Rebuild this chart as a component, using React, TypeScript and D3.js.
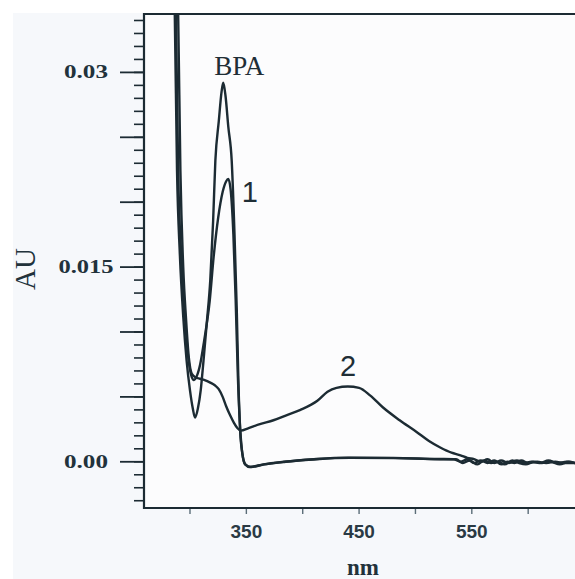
import React, { useEffect, useRef } from 'react';
import * as d3 from 'd3';

// absorbance spectra (nm, AU)
const bpaSpectrum: [number, number][] = [
  [284.5, 0.040], [286.5, 0.0345], [288.5, 0.0224], [291, 0.016], [294, 0.0112],
  [297, 0.0078], [300, 0.0055], [302.5, 0.0041], [304.5, 0.0034], [307, 0.0041],
  [309.5, 0.0055], [312, 0.0078], [315, 0.0108], [318, 0.0140], [320.5, 0.0185],
  [322.5, 0.0232], [325.5, 0.0262], [328, 0.0285], [329.5, 0.0292], [331.5, 0.0282],
  [334, 0.0258], [337, 0.0232], [339.5, 0.0175], [341.5, 0.0117], [343, 0.0060],
  [344.5, 0.0024], [346.5, 0.0006], [349, -0.0002], [353, -0.0004], [365, -0.0002],
  [383, 0.0000], [410, 0.0002], [440, 0.00032], [480, 0.0003], [520, 0.00022],
  [534, 0.0002], [540, 0.0000], [546, 0.0002], [552, -0.0001], [558, 0.0001],
  [564, -0.0001], [570, 0.0001], [576, -0.0002], [582, 0.0000], [588, -0.0001],
  [594, 0.0001], [600, -0.0001], [608, 0.0000], [616, -0.0001], [624, 0.0000],
  [632, -0.0001], [642, -0.0001],
];

const sample1Spectrum: [number, number][] = [
  [285.5, 0.040], [287.5, 0.0345], [289.5, 0.0224], [292.5, 0.0155], [295.5, 0.0112],
  [298.5, 0.0080], [301, 0.0067], [303.5, 0.0063], [306, 0.0066], [309, 0.0075],
  [312.5, 0.0093], [317.5, 0.0124], [321, 0.0158], [325, 0.0188], [329, 0.0208],
  [332, 0.0216], [334, 0.0218], [336, 0.0210], [338.5, 0.0175], [340.5, 0.0125],
  [342.5, 0.0065], [344.5, 0.0026], [346.5, 0.0006], [349, -0.0002], [354, -0.0004],
  [366, -0.0002], [385, 0.0000], [412, 0.0002], [442, 0.0003], [482, 0.00028],
  [522, 0.0002], [536, 0.0002], [542, -0.0001], [548, 0.0001], [555, -0.0002],
  [561, 0.0001], [567, -0.0001], [573, 0.0000], [579, -0.0002], [586, 0.0001],
  [592, -0.0001], [598, -0.0002], [605, 0.0000], [612, -0.0001], [620, 0.0000],
  [628, -0.0002], [636, 0.0000], [642, -0.0001],
];

const sample2Spectrum: [number, number][] = [
  [287, 0.040], [289.5, 0.0345], [291.5, 0.0224], [294, 0.0150], [296.5, 0.0110],
  [299, 0.0080], [301.5, 0.0068], [305, 0.0065], [309, 0.0064], [313, 0.0063],
  [318, 0.0061], [322, 0.0059], [325.5, 0.0056], [329, 0.0050], [332, 0.0043],
  [335.5, 0.0036], [339, 0.0030], [342, 0.0026], [345, 0.0024], [352, 0.0026],
  [362, 0.0029], [374, 0.0032], [386, 0.0036], [398, 0.0040], [413, 0.0047],
  [422, 0.0054], [430, 0.0057], [440, 0.0058], [450, 0.0057], [460, 0.0051],
  [471, 0.0042], [486, 0.0032], [501, 0.0023], [512, 0.0016], [522, 0.0011],
  [532, 0.0007], [540, 0.0005], [546, 0.0003], [552, 0.0002], [558, 0.0000],
  [564, 0.0002], [570, -0.0001], [576, 0.0001], [583, -0.0001], [590, 0.0001],
  [596, -0.0001], [603, 0.0000], [610, -0.0001], [618, 0.0001], [626, -0.0001],
  [634, 0.0000], [642, -0.0001],
];

const curveLabels = [
  { text: 'BPA', nm: 321.5, au: 0.0298, font: 'Liberation Serif', size: 27 },
  { text: '1', nm: 346, au: 0.0200, font: 'Liberation Sans', size: 29 },
  { text: '2', nm: 433, au: 0.0066, font: 'Liberation Sans', size: 29 },
];

const xTickValues = [300, 350, 400, 450, 500, 550, 600];
const xTickLabels = [350, 450, 550];
const yMajorTicks = [0, 0.005, 0.01, 0.015, 0.02, 0.025, 0.03];
const yTickLabels = ['0.00', '0.015', '0.03'];
const yLabelValues = [0, 0.015, 0.03];

const W = 575;
const H = 579;

const App = () => {
  const svgRef = useRef<SVGSVGElement>(null);

  useEffect(() => {
    if (!svgRef.current) return;
    const svg = d3.select(svgRef.current);
    svg.selectAll('*').remove();

    const left = 144;
    const top = 14;
    const bottom = 508;
    const right = 586;

    const x = d3.scaleLinear().domain([259.2, 651.3]).range([left, right]);
    const y = d3.scaleLinear().domain([-0.00356, 0.0345]).range([bottom, top]);

    const ink = '#1c2b33';

    // scanned page tint
    svg.append('rect').attr('width', W).attr('height', H).attr('fill', '#ffffff');
    svg.append('rect')
      .attr('x', 13).attr('y', 13)
      .attr('width', W).attr('height', H)
      .attr('fill', '#f6f8fb');
    svg.append('rect')
      .attr('x', left).attr('y', top)
      .attr('width', right - left).attr('height', bottom - top)
      .attr('fill', '#fcfcfd');

    svg.append('clipPath').attr('id', 'plot-clip')
      .append('rect')
      .attr('x', left).attr('y', top)
      .attr('width', right - left).attr('height', bottom - top);

    // y ticks: minor every 0.001, major every 0.005
    const yMinor = d3.range(-0.003, 0.0345, 0.001);
    svg.append('g').selectAll('line')
      .data(yMinor)
      .enter().append('line')
      .attr('x1', left - 10).attr('x2', left)
      .attr('y1', d => y(d)).attr('y2', d => y(d))
      .attr('stroke', ink).attr('stroke-width', 1.6);
    svg.append('g').selectAll('line')
      .data(yMajorTicks)
      .enter().append('line')
      .attr('x1', left - 24).attr('x2', left)
      .attr('y1', d => y(d)).attr('y2', d => y(d))
      .attr('stroke', ink).attr('stroke-width', 1.8);

    svg.append('g').selectAll('text')
      .data(yLabelValues)
      .enter().append('text')
      .attr('x', 86)
      .attr('y', d => y(d) + 6)
      .attr('text-anchor', 'middle')
      .attr('textLength', (d, i) => yTickLabels[i].length * 11)
      .attr('lengthAdjust', 'spacingAndGlyphs')
      .style('font-family', 'Liberation Serif, serif')
      .style('font-weight', 'bold')
      .style('font-size', '18px')
      .attr('fill', '#22323b')
      .text((d, i) => yTickLabels[i]);

    // x ticks
    svg.append('g').selectAll('line')
      .data(xTickValues)
      .enter().append('line')
      .attr('x1', d => x(d)).attr('x2', d => x(d))
      .attr('y1', bottom).attr('y2', bottom + 6)
      .attr('stroke', '#5b6d78').attr('stroke-width', 1.4);

    svg.append('g').selectAll('text')
      .data(xTickLabels)
      .enter().append('text')
      .attr('x', d => x(d))
      .attr('y', 538)
      .attr('text-anchor', 'middle')
      .style('font-family', 'Liberation Sans, sans-serif')
      .style('font-weight', 'bold')
      .style('font-size', '19px')
      .attr('fill', '#2a3a44')
      .text(d => d);

    // axis titles
    svg.append('text')
      .attr('x', 363).attr('y', 575)
      .attr('text-anchor', 'middle')
      .style('font-family', 'Liberation Serif, serif')
      .style('font-weight', 'bold')
      .style('font-size', '23px')
      .attr('fill', '#22323b')
      .text('nm');

    svg.append('text')
      .attr('transform', 'translate(35, 269) rotate(-90)')
      .attr('text-anchor', 'middle')
      .style('font-family', 'Liberation Serif, serif')
      .style('font-size', '29px')
      .attr('fill', '#22323b')
      .text('AU');

    // spectra
    const line = d3.line<[number, number]>()
      .x(d => x(d[0]))
      .y(d => y(d[1]))
      .curve(d3.curveMonotoneX);

    const plot = svg.append('g').attr('clip-path', 'url(#plot-clip)');
    [bpaSpectrum, sample1Spectrum, sample2Spectrum].forEach(series => {
      plot.append('path')
        .datum(series)
        .attr('fill', 'none')
        .attr('stroke', ink)
        .attr('stroke-width', 2.4)
        .attr('stroke-linejoin', 'round')
        .attr('d', line);
    });

    // frame (left, top, bottom)
    svg.append('path')
      .attr('d', `M${right},${top}H${left}V${bottom}H${right}`)
      .attr('fill', 'none')
      .attr('stroke', ink)
      .attr('stroke-width', 2.2);

    // curve labels
    svg.append('g').selectAll('text')
      .data(curveLabels)
      .enter().append('text')
      .attr('x', d => x(d.nm))
      .attr('y', d => y(d.au))
      .attr('text-anchor', 'start')
      .style('font-family', d => d.font)
      .style('font-size', d => `${d.size}px`)
      .attr('fill', '#1f2e36')
      .text(d => d.text);
  }, []);

  return (
    <svg
      ref={svgRef}
      width={W}
      height={H}
      style={{ position: 'absolute', left: 0, top: 0, display: 'block' }}
    />
  );
};

export default App;
